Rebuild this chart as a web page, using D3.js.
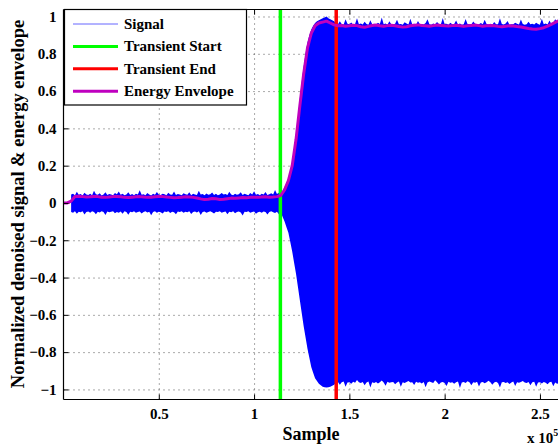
<!DOCTYPE html>
<html>
<head>
<meta charset="utf-8">
<script src="https://cdn.jsdelivr.net/npm/d3@7"></script>
<style>
  html, body { margin: 0; padding: 0; background: #fff; overflow: hidden; }
  svg { display: block; }
  text { font-family: "Liberation Serif", "Times New Roman", serif; font-weight: bold; }
</style>
</head>
<body>
<svg id="chart" width="558" height="446"></svg>
<script>
// Signal extremes are stored every 1000 samples, the envelope every 2000 samples
const signalStep = 1000;
const envelopeStep = 2000;

// Upper edge of the denoised signal (null before the record starts)
const signalUpper = [
  null, null, null, null,
  0.045,0.05,0.042,0.06,0.044,0.048,0.04,0.055,0.046,0.043,
  0.05,0.041,0.065,0.047,0.044,0.052,0.04,0.046,0.058,0.043,
  0.048,0.045,0.041,0.054,0.047,0.062,0.044,0.049,0.042,0.046,
  0.057,0.043,0.048,0.041,0.05,0.045,0.068,0.044,0.047,0.042,
  0.053,0.046,0.04,0.049,0.044,0.059,0.045,0.043,0.05,0.047,
  0.041,0.055,0.046,0.044,0.061,0.043,0.048,0.045,0.042,0.052,
  0.047,0.044,0.058,0.041,0.049,0.046,0.043,0.066,0.045,0.048,
  0.042,0.051,0.044,0.047,0.056,0.043,0.049,0.041,0.046,0.054,
  0.045,0.048,0.043,0.06,0.046,0.042,0.05,0.044,0.047,0.057,
  0.043,0.049,0.045,0.041,0.053,0.046,0.063,0.044,0.048,0.042,
  0.05,0.045,0.059,0.043,0.047,0.052,0.046,0.07,0.048,0.055,
  0.05,0.065,0.085,0.105,0.13,0.17,0.22,0.29,0.37,0.46,
  0.56,0.65,0.73,0.8,0.86,0.9,0.93,0.95,0.965,0.975,
  0.98,0.985,0.99,0.995,1.0,0.99,0.985,0.98,0.975,
  0.962,0.958,0.975,0.96,0.957,0.985,0.961,0.959,0.968,0.956,
  0.96,0.99,0.958,0.962,0.957,0.972,0.96,0.956,0.98,0.959,
  0.961,0.957,0.966,0.96,0.995,0.958,0.962,0.956,0.974,0.959,
  0.957,0.961,0.983,0.958,0.96,0.956,0.969,0.962,0.957,0.988,
  0.959,0.961,0.956,0.976,0.958,0.96,0.957,0.965,0.985,0.959,
  0.956,0.962,0.958,0.971,0.96,0.957,0.992,0.959,0.961,0.956,
  0.967,0.958,0.96,0.979,0.957,0.962,0.956,0.959,0.986,0.96,
  0.958,0.957,0.973,0.961,0.956,0.959,0.965,0.958,0.982,0.96,
  0.957,0.961,0.956,0.97,0.959,0.958,0.99,0.96,0.957,0.962,
  0.976,0.956,0.959,0.958,0.967,0.961,0.957,0.984,0.96,0.956,
  0.959,0.972,0.958,0.961,0.957,0.966,0.96,0.956,0.988,0.959,
  0.962,0.957,0.978,0.96,0.968,0.985,0.975,0.995
];

// Lower edge of the denoised signal
const signalLower = [
  null, null, null, null,
  -0.048,-0.052,-0.045,-0.058,-0.047,-0.05,-0.044,-0.062,-0.049,-0.046,
  -0.053,-0.045,-0.048,-0.06,-0.047,-0.051,-0.044,-0.049,-0.065,-0.046,
  -0.05,-0.047,-0.045,-0.055,-0.048,-0.052,-0.046,-0.058,-0.044,-0.049,
  -0.063,-0.047,-0.05,-0.045,-0.053,-0.048,-0.046,-0.057,-0.049,-0.044,
  -0.051,-0.047,-0.066,-0.048,-0.045,-0.052,-0.047,-0.05,-0.056,-0.046,
  -0.049,-0.044,-0.054,-0.047,-0.05,-0.061,-0.046,-0.048,-0.045,-0.052,
  -0.047,-0.05,-0.045,-0.059,-0.048,-0.046,-0.051,-0.044,-0.064,-0.049,
  -0.046,-0.053,-0.048,-0.045,-0.05,-0.057,-0.047,-0.049,-0.044,-0.052,
  -0.048,-0.046,-0.06,-0.047,-0.05,-0.045,-0.055,-0.048,-0.046,-0.051,
  -0.067,-0.047,-0.049,-0.045,-0.053,-0.048,-0.046,-0.058,-0.05,-0.047,
  -0.052,-0.046,-0.049,-0.062,-0.048,-0.045,-0.05,-0.054,-0.047,-0.06,
  -0.05,-0.075,-0.1,-0.13,-0.16,-0.21,-0.26,-0.32,-0.38,-0.45,
  -0.52,-0.59,-0.66,-0.72,-0.78,-0.83,-0.88,-0.91,-0.94,-0.955,
  -0.97,-0.978,-0.985,-0.988,-0.99,-0.988,-0.985,-0.98,-0.975,
  -0.965,-0.96,-0.975,-0.962,-0.958,-0.985,-0.963,-0.961,-0.97,-0.959,
  -0.964,-0.95,-0.962,-0.966,-0.96,-0.978,-0.963,-0.958,-0.99,-0.961,
  -0.965,-0.96,-0.968,-0.962,-0.952,-0.963,-0.98,-0.959,-0.964,-0.961,
  -0.96,-0.972,-0.963,-0.958,-0.986,-0.962,-0.965,-0.96,-0.955,-0.963,
  -0.961,-0.976,-0.959,-0.964,-0.962,-0.968,-0.96,-0.988,-0.963,-0.958,
  -0.962,-0.965,-0.951,-0.961,-0.974,-0.963,-0.96,-0.966,-0.982,-0.959,
  -0.964,-0.961,-0.969,-0.962,-0.958,-0.992,-0.963,-0.96,-0.965,-0.956,
  -0.962,-0.977,-0.961,-0.964,-0.959,-0.984,-0.963,-0.96,-0.967,-0.962,
  -0.953,-0.961,-0.975,-0.963,-0.959,-0.965,-0.989,-0.962,-0.96,-0.966,
  -0.961,-0.971,-0.963,-0.958,-0.981,-0.962,-0.964,-0.96,-0.955,-0.963,
  -0.966,-0.96,-0.978,-0.962,-0.959,-0.986,-0.963,-0.961,-0.968,-0.96,
  -0.964,-0.972,-0.962,-0.959,-0.983,-0.963,-0.97,-0.965
];

// Smoothed energy envelope
const energyEnvelope = [
  0, 0, 0.01,
  0.035,0.036,0.034,0.032,0.033,0.035,0.034,0.031,0.03,0.032,
  0.034,0.035,0.033,0.03,0.029,0.031,0.033,0.034,0.032,0.03,
  0.031,0.033,0.035,0.034,0.032,0.03,0.028,0.029,0.031,0.033,
  0.032,0.03,0.027,0.022,0.018,0.02,0.024,0.022,0.019,0.02,
  0.023,0.026,0.025,0.027,0.029,0.028,0.03,0.031,0.03,0.032,
  0.033,0.031,0.032,0.034,
  0.04,0.07,0.12,0.2,0.34,0.52,0.69,0.83,0.91,0.95,0.965,0.97,0.975,0.965,
  0.955,0.95,0.952,0.948,0.95,0.953,0.951,0.945,0.942,0.947,
  0.952,0.954,0.95,0.948,0.951,0.953,0.95,0.946,0.943,0.945,
  0.95,0.953,0.955,0.952,0.95,0.948,0.951,0.954,0.952,0.95,
  0.949,0.951,0.953,0.95,0.947,0.95,0.952,0.954,0.951,0.948,
  0.95,0.952,0.95,0.947,0.945,0.948,0.95,0.949,0.946,0.944,
  0.94,0.936,0.933,0.932,0.935,0.94,0.948,0.958,0.968,0.978
];

// Detected transient boundaries (sample index)
const transientStart = 113800;
const transientEnd = 143100;

// Axis ticks
const xTicks = [50000, 100000, 150000, 200000, 250000];
const xTickLabels = ["0.5", "1", "1.5", "2", "2.5"];
const yTicks = [-1, -0.8, -0.6, -0.4, -0.2, 0, 0.2, 0.4, 0.6, 0.8, 1];
const yTickLabels = ["\u22121", "\u22120.8", "\u22120.6", "\u22120.4", "\u22120.2", "0", "0.2", "0.4", "0.6", "0.8", "1"];

const legendItems = [
  { label: "Signal", color: "#0000ff", width: 1 },
  { label: "Transient Start", color: "#00ff00", width: 3 },
  { label: "Transient End", color: "#ff0000", width: 3 },
  { label: "Energy Envelope", color: "#bf00bf", width: 3 }
];

const plot = { left: 63.5, top: 9.5, right: 559, bottom: 399.5 };
const svg = d3.select("#chart");

const x = d3.scaleLinear().domain([0, 260000]).range([plot.left, plot.right]);
const y = d3.scaleLinear().domain([-1.054, 1.0375]).range([plot.bottom, plot.top]);
const W = plot.right - plot.left, H = plot.bottom - plot.top;

svg.append("defs").append("clipPath").attr("id", "clip")
  .append("rect").attr("x", plot.left).attr("y", plot.top).attr("width", W).attr("height", H);

// Dotted grid
const grid = svg.append("g").attr("class", "grid");
grid.append("g").attr("transform", `translate(0,${plot.bottom})`)
  .call(d3.axisBottom(x).tickValues(xTicks).tickSize(-H).tickFormat(""));
grid.append("g").attr("transform", `translate(${plot.left},0)`)
  .call(d3.axisLeft(y).tickValues(yTicks).tickSize(-W).tickFormat(""));
grid.selectAll(".domain").remove();
grid.selectAll("line").attr("stroke", "#555").attr("stroke-width", 1).attr("stroke-dasharray", "1,4");

const body = svg.append("g").attr("clip-path", "url(#clip)");

// Signal band (dense oscillation drawn as the region between its extremes)
const band = d3.area()
  .defined(d => d !== null)
  .x((d, i) => x(i * signalStep))
  .y0((d, i) => y(signalLower[i]))
  .y1(d => y(d));
body.append("path").datum(signalUpper).attr("d", band).attr("fill", "#0000ff");

// Transient markers
body.append("line").attr("x1", x(transientStart)).attr("x2", x(transientStart))
  .attr("y1", plot.top).attr("y2", plot.bottom).attr("stroke", "#00ff00").attr("stroke-width", 3.5);
body.append("line").attr("x1", x(transientEnd)).attr("x2", x(transientEnd))
  .attr("y1", plot.top).attr("y2", plot.bottom).attr("stroke", "#ff0000").attr("stroke-width", 3.5);

// Energy envelope
const envLine = d3.line().x((d, i) => x(i * envelopeStep)).y(d => y(d));
body.append("path").datum(energyEnvelope).attr("d", envLine).attr("fill", "none")
  .attr("stroke", "#bf00bf").attr("stroke-width", 3).attr("stroke-linejoin", "round");

// Axes with inward ticks
const axisStyle = g => {
  g.selectAll(".domain").remove();
  g.selectAll("line").attr("stroke", "#000");
  g.selectAll("text").attr("font-size", 15).attr("fill", "#000")
    .style("font-family", '"Liberation Serif", "Times New Roman", serif').style("font-weight", "bold");
};
svg.append("g").attr("transform", `translate(0,${plot.bottom})`)
  .call(d3.axisBottom(x).tickValues(xTicks).tickSize(-5).tickPadding(9)
    .tickFormat((d, i) => xTickLabels[i]))
  .call(axisStyle);
svg.append("g").attr("transform", `translate(0,${plot.top})`)
  .call(d3.axisTop(x).tickValues(xTicks).tickSize(-5).tickFormat(""))
  .call(axisStyle);
svg.append("g").attr("transform", `translate(${plot.left},0)`)
  .call(d3.axisLeft(y).tickValues(yTicks).tickSize(-5).tickPadding(7)
    .tickFormat((d, i) => yTickLabels[i]))
  .call(axisStyle);

// Frame
[[plot.left, plot.top, plot.right, plot.top],
 [plot.left, plot.bottom, plot.right, plot.bottom],
 [plot.left, plot.top, plot.left, plot.bottom]].forEach(([x1, y1, x2, y2]) => {
  svg.append("line").attr("x1", x1).attr("y1", y1).attr("x2", x2).attr("y2", y2)
    .attr("stroke", "#000").attr("stroke-width", 1.2);
});

// Axis titles
svg.append("text").attr("x", 311).attr("y", 440).attr("text-anchor", "middle")
  .attr("font-size", 18).text("Sample");
svg.append("text").attr("transform", "translate(24,204) rotate(-90)").attr("text-anchor", "middle")
  .attr("font-size", 18.5).text("Normalized denoised signal & energy envelope");
const mult = svg.append("text").attr("x", 527).attr("y", 443).attr("font-size", 15);
mult.append("tspan").text("x 10");
mult.append("tspan").attr("dy", -7).attr("font-size", 10).text("5");

// Legend
const lg = svg.append("g");
lg.append("rect").attr("x", 64.5).attr("y", 9.5).attr("width", 182).attr("height", 95.5)
  .attr("fill", "#fff").attr("stroke", "#000").attr("stroke-width", 1.2);
legendItems.forEach((d, i) => {
  const cy = 24 + i * 22.4;
  lg.append("line").attr("x1", 73).attr("x2", 118).attr("y1", cy).attr("y2", cy)
    .attr("stroke", d.color).attr("stroke-width", d.width).attr("stroke-opacity", i === 0 ? 0.6 : 1);
  lg.append("text").attr("x", 124).attr("y", cy + 5).attr("font-size", 15).text(d.label);
});
</script>
</body>
</html>
